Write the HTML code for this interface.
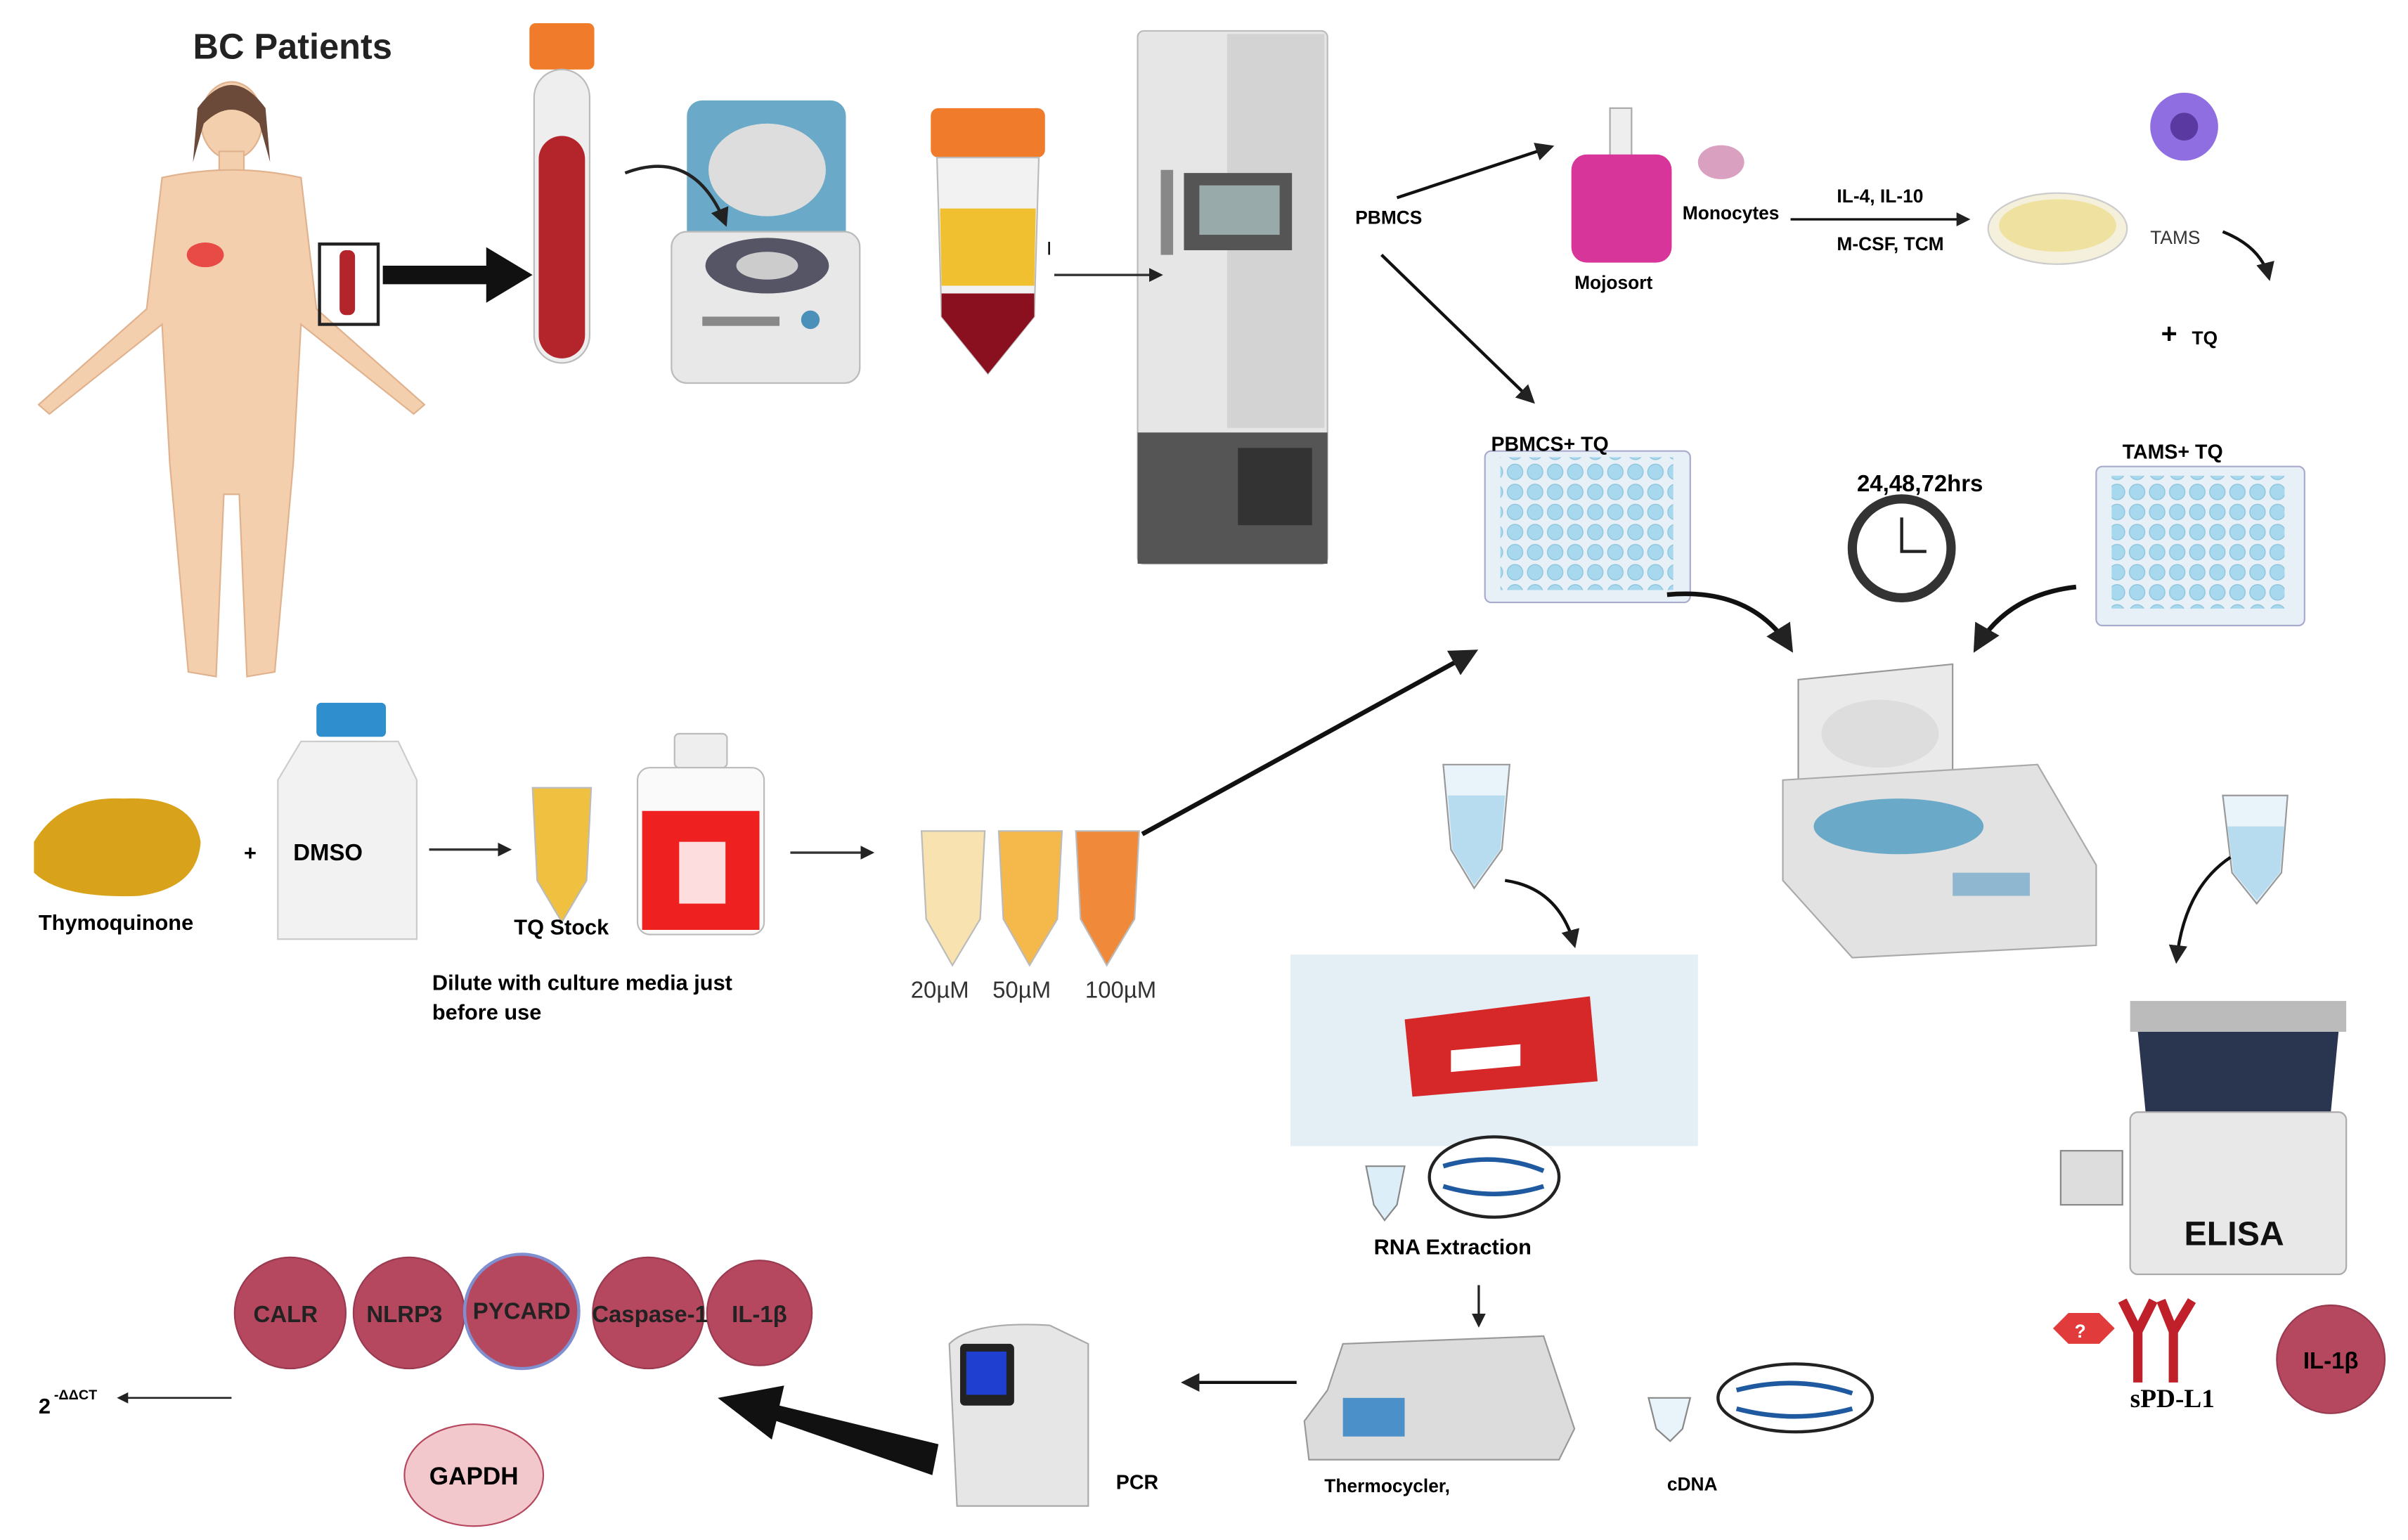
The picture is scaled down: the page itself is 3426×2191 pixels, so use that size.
<!DOCTYPE html>
<html><head><meta charset="utf-8"><style>
html,body{margin:0;padding:0;background:#fff;}
svg{display:block;}
text{font-family:"Liberation Sans",sans-serif;}
</style></head><body>
<svg width="3426" height="2191" viewBox="0 0 1560 997" preserveAspectRatio="none" xmlns="http://www.w3.org/2000/svg">
<defs>
<marker id="ahs" markerWidth="6" markerHeight="6" refX="5" refY="3" orient="auto" markerUnits="strokeWidth"><path d="M0,0 L6,3 L0,6 z" fill="#222"/></marker>
<pattern id="wells" x="0" y="0" width="13" height="13" patternUnits="userSpaceOnUse"><circle cx="6.5" cy="6.5" r="5" fill="#a8d8ee" stroke="#8cc4dc" stroke-width="0.6"/></pattern>
</defs>
<rect width="1560" height="997" fill="#fff"/>

<!-- BC patients -->
<text x="125" y="38" font-size="23" font-weight="bold" fill="#222">BC Patients</text>
<g fill="#f3cfae" stroke="#e0b28e" stroke-width="1">
<ellipse cx="150" cy="78" rx="20" ry="25"/>
<rect x="142" y="98" width="16" height="16"/>
<path d="M105,115 Q150,105 195,115 L205,200 L275,262 L268,268 L195,210 L190,300 L178,435 L160,438 L155,320 L145,320 L140,438 L122,435 L110,300 L105,210 L32,268 L25,262 L95,200 Z"/>
</g>
<path d="M128,70 Q150,40 172,70 L175,105 L168,80 Q150,62 132,80 L125,105 Z" fill="#6b4a3a"/>
<ellipse cx="133" cy="165" rx="12" ry="8" fill="#e84b45"/>
<rect x="207" y="158" width="38" height="52" fill="none" stroke="#222" stroke-width="2"/>
<rect x="220" y="162" width="10" height="42" rx="4" fill="#b3242b"/>
<path d="M248,172 L315,172 L315,160 L345,178 L315,196 L315,184 L248,184 Z" fill="#111"/>

<!-- blood tube -->
<rect x="343" y="15" width="42" height="30" rx="4" fill="#f07b2a"/>
<rect x="346" y="45" width="36" height="190" rx="18" fill="#eee" stroke="#bbb"/>
<rect x="349" y="88" width="30" height="144" rx="15" fill="#b3242b"/>

<!-- centrifuge small -->
<rect x="445" y="65" width="103" height="100" rx="10" fill="#6aa9c8"/>
<ellipse cx="497" cy="110" rx="38" ry="30" fill="#ddd"/>
<rect x="435" y="150" width="122" height="98" rx="10" fill="#e8e8e8" stroke="#bbb"/>
<ellipse cx="497" cy="172" rx="40" ry="18" fill="#556" />
<ellipse cx="497" cy="172" rx="20" ry="9" fill="#ccc"/>
<rect x="455" y="205" width="50" height="6" fill="#888"/>
<circle cx="525" cy="207" r="6" fill="#4b90b8"/>
<path d="M405,112 Q450,95 470,145" fill="none" stroke="#222" stroke-width="2" marker-end="url(#ahs)"/>

<!-- conical tube -->
<rect x="603" y="70" width="74" height="32" rx="5" fill="#f07b2a"/>
<path d="M607,102 L673,102 L670,205 L640,242 L610,205 Z" fill="#f2f2f2" stroke="#bbb"/>
<path d="M609,135 L671,135 L670,185 L610,185 Z" fill="#f0c030"/>
<path d="M610,190 L670,190 L670,205 L640,242 L610,205 Z" fill="#8a1020"/>
<text x="678" y="165" font-size="12">I</text>

<!-- freezer -->
<rect x="737" y="20" width="123" height="345" rx="4" fill="#e6e6e6" stroke="#bbb"/>
<rect x="795" y="22" width="63" height="255" fill="#d3d3d3"/>
<rect x="767" y="112" width="70" height="50" fill="#555"/>
<rect x="777" y="120" width="52" height="32" fill="#9aa"/>
<rect x="737" y="280" width="123" height="85" fill="#555"/>
<rect x="802" y="290" width="48" height="50" fill="#333"/>
<rect x="752" y="110" width="8" height="55" fill="#888"/>
<line x1="683" y1="178" x2="752" y2="178" stroke="#333" stroke-width="1.5" marker-end="url(#ahs)"/>

<text x="878" y="145" font-size="12" font-weight="bold">PBMCS</text>
<line x1="905" y1="128" x2="1005" y2="95" stroke="#111" stroke-width="2" marker-end="url(#ahs)"/>
<line x1="895" y1="165" x2="993" y2="260" stroke="#111" stroke-width="2" marker-end="url(#ahs)"/>

<!-- mojosort -->
<rect x="1043" y="70" width="14" height="35" fill="#eee" stroke="#aaa"/>
<rect x="1018" y="100" width="65" height="70" rx="10" fill="#d8359a"/>
<text x="1020" y="187" font-size="12" font-weight="bold">Mojosort</text>
<ellipse cx="1115" cy="105" rx="15" ry="11" fill="#d9a0c0"/>
<text x="1090" y="142" font-size="12" font-weight="bold">Monocytes</text>
<line x1="1160" y1="142" x2="1275" y2="142" stroke="#111" stroke-width="1.5" marker-end="url(#ahs)"/>
<text x="1190" y="131" font-size="12" font-weight="bold">IL-4, IL-10</text>
<text x="1190" y="162" font-size="12" font-weight="bold">M-CSF, TCM</text>
<ellipse cx="1333" cy="148" rx="45" ry="23" fill="#f5f0dc" stroke="#ccc"/>
<ellipse cx="1333" cy="146" rx="38" ry="17" fill="#efe2a0"/>
<circle cx="1415" cy="82" r="22" fill="#8e6ee0"/>
<circle cx="1415" cy="82" r="9" fill="#5a3aa0"/>
<text x="1393" y="158" font-size="12" fill="#333">TAMS</text>
<path d="M1440,150 Q1465,160 1470,180" fill="none" stroke="#111" stroke-width="2" marker-end="url(#ahs)"/>
<text x="1400" y="222" font-size="18" font-weight="bold">+</text>
<text x="1420" y="223" font-size="12" font-weight="bold">TQ</text>

<!-- plates -->
<rect x="962" y="292" width="133" height="98" rx="4" fill="#e6f0f6" stroke="#aac"/>
<rect x="972" y="296" width="112" height="86" fill="url(#wells)"/>
<text x="966" y="292" font-size="13" font-weight="bold">PBMCS+ TQ</text>
<text x="1203" y="318" font-size="15" font-weight="bold">24,48,72hrs</text>
<circle cx="1232" cy="355" r="32" fill="#fff" stroke="#333" stroke-width="6"/>
<path d="M1232,335 L1232,357 L1248,357" stroke="#222" stroke-width="2" fill="none"/>
<text x="1375" y="297" font-size="13" font-weight="bold">TAMS+ TQ</text>
<rect x="1358" y="302" width="135" height="103" rx="4" fill="#e6f0f6" stroke="#aac"/>
<rect x="1368" y="308" width="112" height="86" fill="url(#wells)"/>
<path d="M1080,385 Q1135,380 1160,420" fill="none" stroke="#111" stroke-width="3" marker-end="url(#ahs)"/>
<path d="M1345,380 Q1300,385 1280,420" fill="none" stroke="#111" stroke-width="3" marker-end="url(#ahs)"/>

<!-- big centrifuge -->
<path d="M1165,440 L1265,430 L1265,500 L1165,510 Z" fill="#eaeaea" stroke="#999"/>
<ellipse cx="1218" cy="475" rx="38" ry="22" fill="#ddd"/>
<path d="M1155,505 L1320,495 L1358,560 L1358,612 L1200,620 L1155,570 Z" fill="#e2e2e2" stroke="#aaa"/>
<ellipse cx="1230" cy="535" rx="55" ry="18" fill="#6aa9c8"/>
<rect x="1265" y="565" width="50" height="15" fill="#8fb8d0"/>

<!-- thymoquinone -->
<path d="M22,545 Q40,515 80,517 Q125,515 130,545 Q128,575 90,580 Q40,582 22,565 Z" fill="#d8a21a"/>
<text x="25" y="602" font-size="14" font-weight="bold">Thymoquinone</text>
<text x="158" y="557" font-size="14" font-weight="bold">+</text>
<rect x="205" y="455" width="45" height="22" rx="3" fill="#2f8fce"/>
<path d="M195,480 L258,480 L270,505 L270,608 L180,608 L180,505 Z" fill="#f2f2f2" stroke="#ccc"/>
<text x="190" y="557" font-size="15" font-weight="bold">DMSO</text>
<line x1="278" y1="550" x2="330" y2="550" stroke="#333" stroke-width="1.5" marker-end="url(#ahs)"/>
<path d="M345,510 L383,510 L380,570 L364,597 L348,570 Z" fill="#f0c040" stroke="#bbb"/>
<text x="333" y="605" font-size="14" font-weight="bold">TQ Stock</text>
<rect x="437" y="475" width="34" height="22" rx="3" fill="#eee" stroke="#bbb"/>
<rect x="413" y="497" width="82" height="108" rx="8" fill="#fafafa" stroke="#bbb"/>
<rect x="416" y="525" width="76" height="77" fill="#ee2020"/>
<rect x="440" y="545" width="30" height="40" fill="#fff" opacity="0.85"/>
<text x="280" y="641" font-size="14" font-weight="bold">Dilute with culture media just</text>
<text x="280" y="660" font-size="14" font-weight="bold">before use</text>
<line x1="512" y1="552" x2="565" y2="552" stroke="#333" stroke-width="1.5" marker-end="url(#ahs)"/>
<path d="M597,538 L638,538 L635,595 L617,625 L600,595 Z" fill="#f7e2b0" stroke="#bbb"/>
<path d="M647,538 L688,538 L685,595 L667,625 L650,595 Z" fill="#f5b84a" stroke="#bbb"/>
<path d="M697,538 L738,538 L735,595 L717,625 L700,595 Z" fill="#f08a3a" stroke="#bbb"/>
<text x="590" y="646" font-size="15" fill="#333">20µM</text>
<text x="643" y="646" font-size="15" fill="#333">50µM</text>
<text x="703" y="646" font-size="15" fill="#333">100µM</text>
<line x1="740" y1="540" x2="955" y2="422" stroke="#111" stroke-width="3" marker-end="url(#ahs)"/>

<!-- RNA -->
<path d="M935,495 L978,495 L973,550 L955,575 L940,550 Z" fill="#e8f3fa" stroke="#999"/>
<path d="M938,515 L975,515 L972,550 L955,573 L941,550 Z" fill="#b8dcef"/>
<path d="M975,570 Q1010,575 1020,612" fill="none" stroke="#111" stroke-width="2" marker-end="url(#ahs)"/>
<rect x="836" y="618" width="264" height="124" fill="#e3eef5"/>
<path d="M910,660 L1030,645 L1035,700 L915,710 Z" fill="#d62828"/>
<path d="M940,680 L985,676 L985,690 L940,694 Z" fill="#fff"/>
<ellipse cx="968" cy="762" rx="42" ry="26" fill="#fff" stroke="#222" stroke-width="2"/>
<path d="M935,755 Q968,745 1000,758 M935,768 Q968,778 1000,768" stroke="#1f5aa0" stroke-width="3" fill="none"/>
<path d="M885,755 L910,755 L905,780 L897,790 L890,780 Z" fill="#dceef8" stroke="#888"/>
<text x="890" y="812" font-size="14" font-weight="bold">RNA Extraction</text>
<line x1="958" y1="832" x2="958" y2="858" stroke="#222" stroke-width="1.5" marker-end="url(#ahs)"/>
<path d="M860,900 L870,870 L1000,865 L1020,925 L1010,945 L848,945 L845,920 Z" fill="#dcdcdc" stroke="#999"/>
<rect x="870" y="905" width="40" height="25" fill="#4b90c8"/>
<text x="858" y="966" font-size="12" font-weight="bold">Thermocycler,</text>
<ellipse cx="1163" cy="905" rx="50" ry="22" fill="#fff" stroke="#222" stroke-width="2"/>
<path d="M1125,900 Q1163,890 1200,902 M1125,912 Q1163,922 1200,912" stroke="#1f5aa0" stroke-width="3" fill="none"/>
<path d="M1068,905 L1095,905 L1090,925 L1082,933 L1073,925 Z" fill="#e8f3fa" stroke="#888"/>
<text x="1080" y="965" font-size="12" font-weight="bold">cDNA</text>
<line x1="840" y1="895" x2="767" y2="895" stroke="#111" stroke-width="2" marker-end="url(#ahs)"/>

<!-- PCR -->
<path d="M615,870 Q630,855 680,858 L705,870 L705,975 L620,975 Z" fill="#e6e6e6" stroke="#aaa"/>
<rect x="622" y="870" width="35" height="40" rx="3" fill="#222"/>
<rect x="626" y="875" width="26" height="28" fill="#1f3fd0"/>
<text x="723" y="964" font-size="13" font-weight="bold">PCR</text>
<path d="M608,935 L505,910 L508,897 L465,905 L500,932 L503,920 L604,955 Z" fill="#111"/>

<!-- genes -->
<g fill="#b5485f" stroke="#9a3a50">
<circle cx="188" cy="850" r="36"/><circle cx="265" cy="850" r="36"/><circle cx="420" cy="850" r="36"/><circle cx="492" cy="850" r="34"/>
</g>
<circle cx="338" cy="849" r="37" fill="#b5485f" stroke="#7f8fd0" stroke-width="2"/>
<g font-size="15" font-weight="bold" fill="#222" text-anchor="middle">
<text x="185" y="856">CALR</text><text x="262" y="856">NLRP3</text><text x="338" y="854">PYCARD</text><text x="421" y="856">Caspase-1</text><text x="492" y="856">IL-1β</text>
</g>
<ellipse cx="307" cy="955" rx="45" ry="33" fill="#f3c8cc" stroke="#b5485f"/>
<text x="307" y="961" font-size="16" font-weight="bold" text-anchor="middle">GAPDH</text>
<text x="25" y="915" font-size="14" font-weight="bold">2</text>
<text x="35" y="906" font-size="9" font-weight="bold">-ΔΔCT</text>
<line x1="150" y1="905" x2="77" y2="905" stroke="#222" stroke-width="1.2" marker-end="url(#ahs)"/>

<!-- ELISA -->
<path d="M1440,515 L1482,515 L1478,565 L1462,585 L1446,565 Z" fill="#e8f3fa" stroke="#999"/>
<path d="M1443,535 L1480,535 L1477,565 L1462,583 L1447,565 Z" fill="#b8dcef"/>
<path d="M1445,555 Q1415,575 1410,622" fill="none" stroke="#111" stroke-width="2" marker-end="url(#ahs)"/>
<rect x="1380" y="648" width="140" height="20" fill="#bbb"/>
<path d="M1385,668 L1515,668 L1510,720 L1390,720 Z" fill="#2a3550"/>
<rect x="1380" y="720" width="140" height="105" rx="5" fill="#e8e8e8" stroke="#aaa"/>
<rect x="1335" y="745" width="40" height="35" fill="#ddd" stroke="#888"/>
<text x="1415" y="806" font-size="22" font-weight="bold" fill="#111">ELISA</text>
<path d="M1330,860 L1340,850 L1360,850 L1370,860 L1360,870 L1340,870 Z" fill="#e23b3b"/>
<text x="1344" y="866" font-size="12" font-weight="bold" fill="#fff">?</text>
<path d="M1385,895 L1385,862 L1375,842 M1385,862 L1395,842 M1408,895 L1408,862 L1400,842 M1408,862 L1420,842" stroke="#c0202a" stroke-width="6" fill="none"/>
<text x="1380" y="911" font-size="17" font-weight="bold" style="font-family:'Liberation Serif',serif">sPD-L1</text>
<circle cx="1510" cy="880" r="35" fill="#b5485f" stroke="#9a3a50"/>
<text x="1510" y="886" font-size="15" font-weight="bold" text-anchor="middle">IL-1β</text>
</svg>
</body></html>
